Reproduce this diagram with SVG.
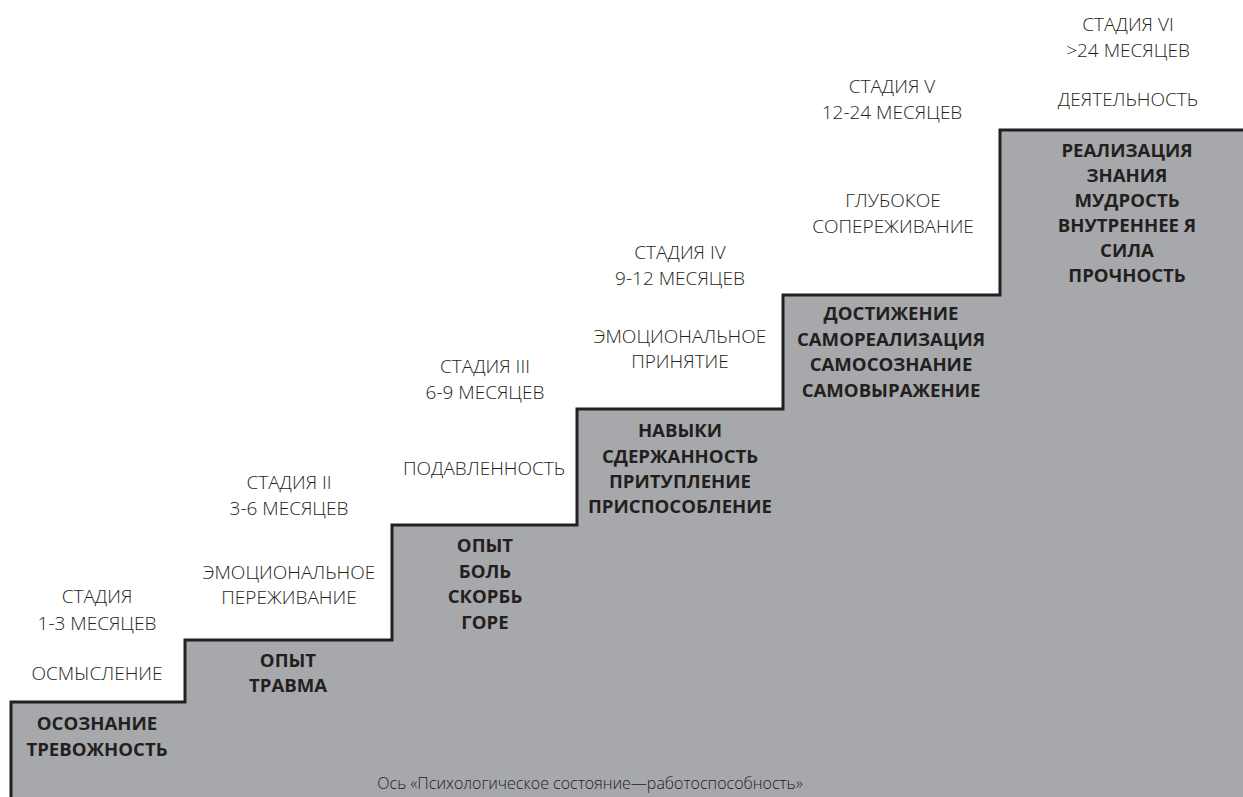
<svg xmlns="http://www.w3.org/2000/svg" width="1243" height="797" viewBox="0 0 1243 797">
<style>
.lt{font-family:"Open Sans","Liberation Sans",sans-serif;font-weight:300;font-size:19px;fill:#231f20;text-anchor:middle}
.bd{font-family:"Open Sans","Liberation Sans",sans-serif;font-weight:700;font-size:18.6px;fill:#231f20;text-anchor:middle}
.ax{font-family:"Open Sans","Liberation Sans",sans-serif;font-weight:300;font-size:16px;fill:#231f20;text-anchor:middle}
</style>
<rect width="1243" height="797" fill="#ffffff"/>
<g id="stairs">
<path d="M11,800 L11,702 L185,702 L185,640 L392,640 L392,525 L577,525 L577,409 L783,409 L783,295 L1000,295 L1000,130 L1246,130 L1246,800 Z" fill="#a7a8ab" stroke="#231f20" stroke-width="3"/>
</g>
<g id="stage1">
<text class="lt" x="97" y="603">СТАДИЯ</text>
<text class="lt" x="97" y="630">1-3 МЕСЯЦЕВ</text>
<text class="lt" x="97" y="680">ОСМЫСЛЕНИЕ</text>
<text class="bd" x="97" y="730">ОСОЗНАНИЕ</text>
<text class="bd" x="97" y="756">ТРЕВОЖНОСТЬ</text>
</g>
<g id="stage2">
<text class="lt" x="289" y="489">СТАДИЯ II</text>
<text class="lt" x="289" y="515">3-6 МЕСЯЦЕВ</text>
<text class="lt" x="289" y="579">ЭМОЦИОНАЛЬНОЕ</text>
<text class="lt" x="289" y="604">ПЕРЕЖИВАНИЕ</text>
<text class="bd" x="288" y="667">ОПЫТ</text>
<text class="bd" x="288" y="692">ТРАВМА</text>
</g>
<g id="stage3">
<text class="lt" x="485" y="373">СТАДИЯ III</text>
<text class="lt" x="485" y="399">6-9 МЕСЯЦЕВ</text>
<text class="lt" x="484" y="475">ПОДАВЛЕННОСТЬ</text>
<text class="bd" x="485" y="552">ОПЫТ</text>
<text class="bd" x="485" y="578">БОЛЬ</text>
<text class="bd" x="485" y="603">СКОРБЬ</text>
<text class="bd" x="485" y="629">ГОРЕ</text>
</g>
<g id="stage4">
<text class="lt" x="680" y="259">СТАДИЯ IV</text>
<text class="lt" x="680" y="285">9-12 МЕСЯЦЕВ</text>
<text class="lt" x="680" y="343">ЭМОЦИОНАЛЬНОЕ</text>
<text class="lt" x="680" y="368">ПРИНЯТИЕ</text>
<text class="bd" x="680" y="437">НАВЫКИ</text>
<text class="bd" x="680" y="463">СДЕРЖАННОСТЬ</text>
<text class="bd" x="680" y="488">ПРИТУПЛЕНИЕ</text>
<text class="bd" x="680" y="513">ПРИСПОСОБЛЕНИЕ</text>
</g>
<g id="stage5">
<text class="lt" x="892" y="93">СТАДИЯ V</text>
<text class="lt" x="892" y="119">12-24 МЕСЯЦЕВ</text>
<text class="lt" x="893" y="207">ГЛУБОКОЕ</text>
<text class="lt" x="893" y="233">СОПЕРЕЖИВАНИЕ</text>
<text class="bd" x="891" y="320">ДОСТИЖЕНИЕ</text>
<text class="bd" x="891" y="346">САМОРЕАЛИЗАЦИЯ</text>
<text class="bd" x="891" y="371">САМОСОЗНАНИЕ</text>
<text class="bd" x="891" y="397">САМОВЫРАЖЕНИЕ</text>
</g>
<g id="stage6">
<text class="lt" x="1128" y="31">СТАДИЯ VI</text>
<text class="lt" x="1128" y="57">&gt;24 МЕСЯЦЕВ</text>
<text class="lt" x="1128" y="106">ДЕЯТЕЛЬНОСТЬ</text>
<text class="bd" x="1127" y="157">РЕАЛИЗАЦИЯ</text>
<text class="bd" x="1127" y="182">ЗНАНИЯ</text>
<text class="bd" x="1127" y="207">МУДРОСТЬ</text>
<text class="bd" x="1127" y="232">ВНУТРЕННЕЕ Я</text>
<text class="bd" x="1127" y="257">СИЛА</text>
<text class="bd" x="1127" y="282">ПРОЧНОСТЬ</text>
</g>
<g id="axis">
<text class="ax" x="590" y="789">Ось «Психологическое состояние—работоспособность»</text>
</g>
</svg>
